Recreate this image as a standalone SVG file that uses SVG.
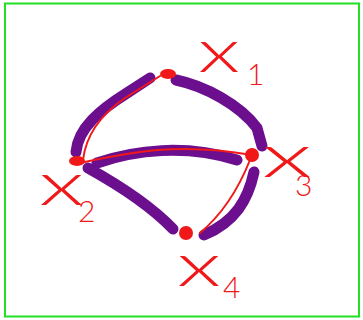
<svg xmlns="http://www.w3.org/2000/svg" width="363" height="320" viewBox="0 0 363 320">
<style>
.edge{fill:none;stroke:#6b0f8e;stroke-width:11;stroke-linecap:round;stroke-linejoin:round}
.pen{fill:none;stroke:#f01818;stroke-width:2;stroke-linecap:round}
.dot{fill:#f01818}
.var{font-family:Lato,"Open Sans",sans-serif;font-weight:300;font-size:60px;fill:#f01818}
.sub{font-family:Lato,"Open Sans",sans-serif;font-weight:300;font-size:30px;fill:#f01818}
</style>
<rect x="5" y="3.5" width="354" height="313" fill="#fff" stroke="#22e022" stroke-width="2"/>
<g id="connectors">
<path class="edge" d="M76,152 C78,128 100,110 127,93 L150,78"/>
<path class="edge" d="M176,80 C205,86 240,105 257,128 L262,146"/>
<path class="edge" d="M97,163 C135,150 185,144 237,160"/>
<path class="edge" d="M88,168 C115,183 150,205 173,229"/>
<path class="edge" d="M254,172 C248,200 235,222 204,235"/>
<path class="pen" d="M83,160 C86,135 100,115 125,98 L160,76"/>
<path class="pen" d="M80,163 C130,152 180,142 252,155"/>
<path class="pen" d="M250,160 C240,185 225,212 200,233"/>
</g>
<g id="x1">
<ellipse class="dot" cx="168" cy="74" rx="8" ry="5"/>
<text class="var" x="198" y="72" textLength="42" lengthAdjust="spacingAndGlyphs">x</text>
<text class="sub" x="247" y="85">1</text>
</g>
<g id="x2">
<ellipse class="dot" cx="77" cy="161" rx="8" ry="5"/>
<text class="var" x="39" y="205" textLength="45" lengthAdjust="spacingAndGlyphs">x</text>
<text class="sub" x="78" y="222">2</text>
</g>
<g id="x3">
<circle class="dot" cx="252" cy="155" r="7"/>
<text class="var" x="262" y="177" textLength="50" lengthAdjust="spacingAndGlyphs">x</text>
<text class="sub" x="295" y="196">3</text>
</g>
<g id="x4">
<circle class="dot" cx="186" cy="233" r="7"/>
<text class="var" x="177" y="286" textLength="44" lengthAdjust="spacingAndGlyphs">x</text>
<text class="sub" x="223" y="298">4</text>
</g>
</svg>
